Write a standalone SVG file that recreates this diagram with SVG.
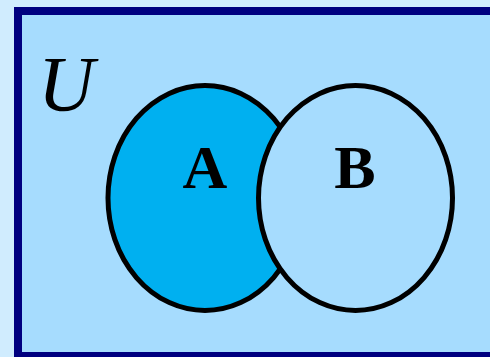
<svg xmlns="http://www.w3.org/2000/svg" width="490" height="357" viewBox="0 0 490 357">
<style>
.set{stroke:#000;stroke-width:5}
.lbl{font-family:"Liberation Serif",serif;font-weight:bold;font-size:62px;text-anchor:middle;fill:#000}
</style>
<rect x="0" y="0" width="490" height="357" fill="#d0ecfe"/>
<g id="universe">
<rect x="18" y="11" width="480" height="345" fill="#a6dcfe" stroke="#000080" stroke-width="8"/>
<text x="38" y="110" font-family="Liberation Serif,serif" font-style="italic" font-size="78" fill="#000">U</text>
</g>
<g id="setA">
<ellipse class="set" cx="205" cy="198" rx="97" ry="112.5" fill="#00b0f0"/>
<text class="lbl" x="205" y="188">A</text>
</g>
<g id="setB">
<ellipse class="set" cx="355.5" cy="198" rx="97" ry="112.5" fill="#a6dcfe"/>
<text class="lbl" x="355" y="188">B</text>
</g>
</svg>
